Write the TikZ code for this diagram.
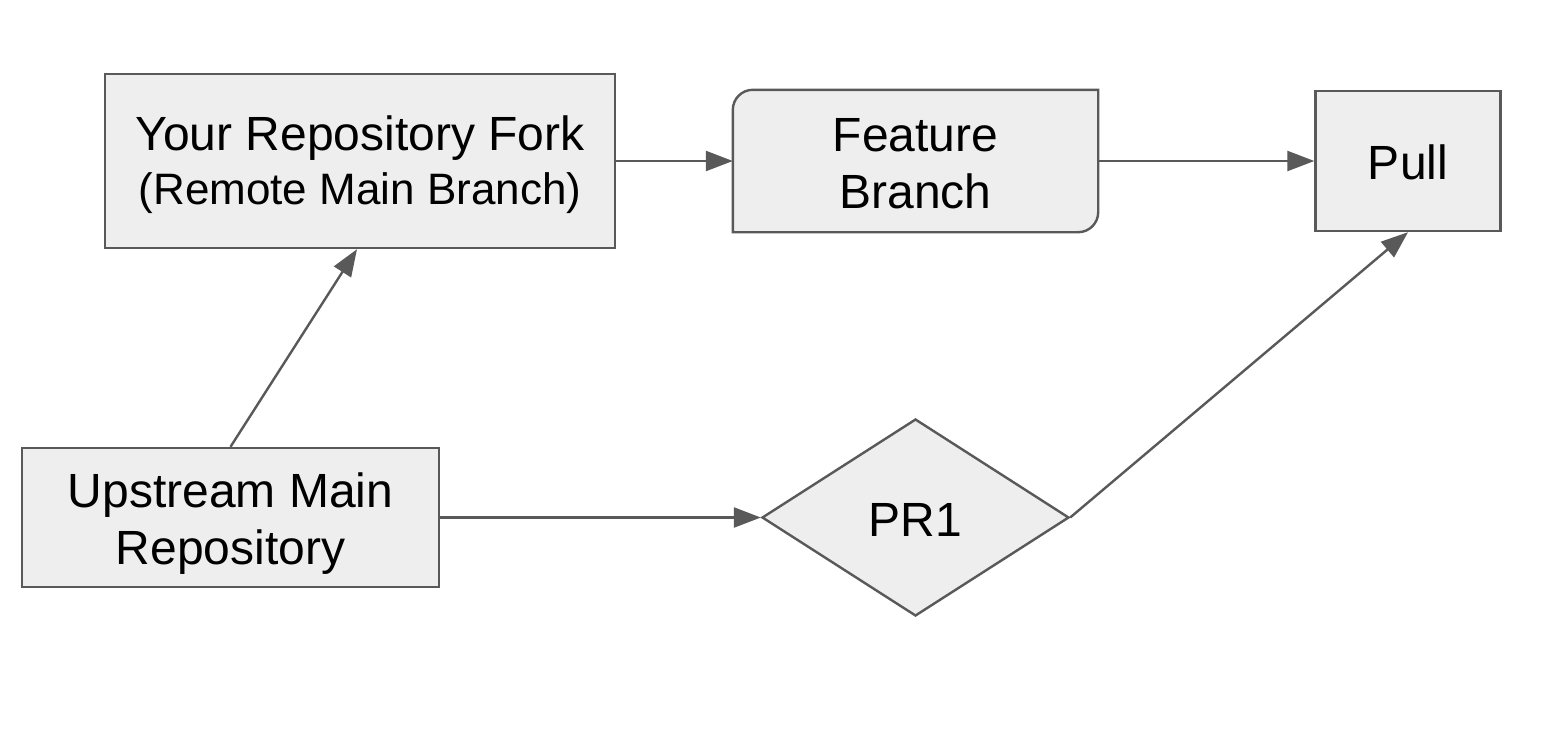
\documentclass[tikz,border=0pt]{standalone}
\usepackage{fontspec}
\setmainfont{Liberation Sans}
\usetikzlibrary{arrows.meta,shapes.geometric,calc,backgrounds}
\definecolor{boxfill}{HTML}{EEEEEE}
\definecolor{edgegray}{HTML}{595959}
\tikzset{
  boxnode/.style={rectangle,draw=edgegray,fill=boxfill,line width=2.4pt,inner sep=0pt,align=center,
    font=\fontsize{48}{57}\selectfont,text=black},
  flow/.style={draw=edgegray,line width=2.4pt,-{Triangle[length=27pt,width=20pt]}},
}
\begin{document}
\begin{tikzpicture}[x=1pt,y=-1pt]
\useasboundingbox (0,0) rectangle (1552,734);
\begin{scope}[on background layer]
\fill[white] (0,0) rectangle (1552,734);
\end{scope}
\node[boxnode,minimum width=510pt,minimum height=174pt] (Fork) at (360,161)
  {\rule{0pt}{43pt}Your Repository Fork\\[-3pt]{\fontsize{44}{50}\selectfont (Remote Main Branch)}};
\node[boxnode,draw=none,fill=none,minimum width=363pt,minimum height=140pt] (Feat) at (915.5,161)
  {\rule{0pt}{38pt}Feature\\Branch};
\begin{scope}[on background layer]
\draw[draw=edgegray,fill=boxfill,line width=2.4pt]
  (Feat.north east) -- ($(Feat.south east)+(0,-20)$)
  .. controls ($(Feat.south east)+(0,-9)$) and ($(Feat.south east)+(-9,0)$) .. ($(Feat.south east)+(-20,0)$)
  -- (Feat.south west) -- ($(Feat.north west)+(0,20)$)
  .. controls ($(Feat.north west)+(0,9)$) and ($(Feat.north west)+(9,0)$) .. ($(Feat.north west)+(20,0)$)
  -- cycle;
\end{scope}
\node[boxnode,minimum width=185pt,minimum height=140pt] (Pull) at (1408,161) {\rule{0pt}{38pt}Pull};
\node[boxnode,minimum width=417pt,minimum height=139pt] (Up) at (230.5,517.5) {\rule{0pt}{47pt}Upstream Main\\Repository};
\node[boxnode,diamond,aspect=1.56,minimum width=307pt,minimum height=197pt] (PR) at (915.5,517.5) {\rule{0pt}{38pt}PR1};
\draw[flow] (Up.north) -- ($(Fork.south)+(-3,0)$);
\draw[flow] (Fork.east) -- (Feat.west);
\draw[flow] (Feat.east) -- (Pull.west);
\draw[flow] (Up.east) -- (PR.west);
\draw[flow] (PR.east) -- (Pull.south);
\end{tikzpicture}
\end{document}
